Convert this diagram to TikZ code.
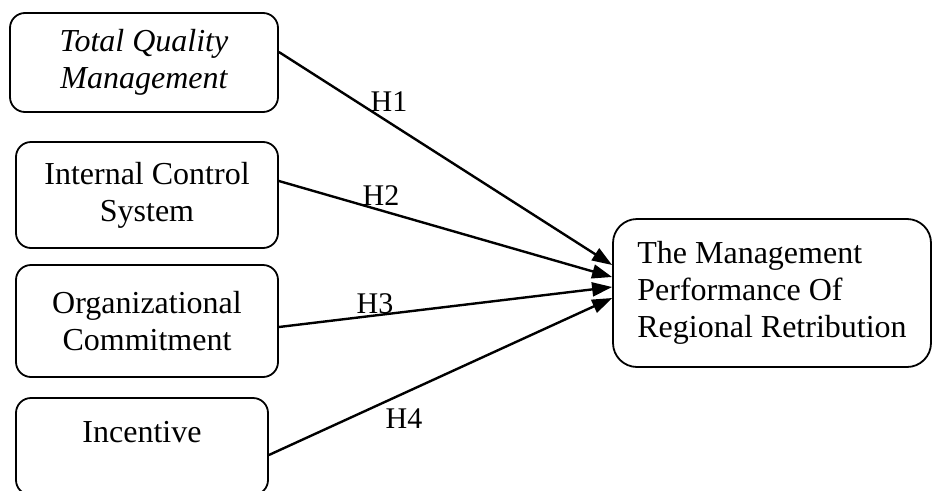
\documentclass[tikz,border=0pt]{standalone}
\usepackage{fontspec}
\setmainfont{Liberation Serif}
\usetikzlibrary{arrows.meta}
\begin{document}
\begin{tikzpicture}[x=1pt,y=-1pt,
  box/.style={draw,line width=1.8pt,rounded corners=15pt,inner sep=0pt,align=center,
    font=\fontsize{32}{37}\selectfont},
  bigbox/.style={box,rounded corners=24pt,align=left},
  conn/.style={line width=2.4pt,-{Triangle[length=20pt,width=14pt]}},
  hyp/.style={inner sep=0pt,font=\fontsize{30}{34}\selectfont}]
\useasboundingbox (0,0) rectangle (933,490);
\clip (0,0) rectangle (933,490);
\node[box,minimum width=268pt,minimum height=99pt] (tqm) at (144,62.5) {\itshape Total Quality\\\itshape Management};
\node[box,minimum width=262pt,minimum height=106pt] (ics) at (147,195) {Internal Control\\System};
\node[box,minimum width=262pt,minimum height=112pt] (oc) at (147,321) {Organizational\\Commitment};
\node[box,minimum width=252pt,minimum height=97pt,text height=22pt,text depth=31pt] (inc) at (142,446.5) {Incentive};
\node[bigbox,minimum width=318pt,minimum height=148pt] (dv) at (772,293) {The Management\\Performance Of\\Regional Retribution};
\draw[conn] ([yshift=10.5pt]tqm.east) -- ([yshift=28pt]dv.west);
\draw[conn] ([yshift=14pt]ics.east) -- ([yshift=16pt]dv.west);
\draw[conn] ([yshift=-6pt]oc.east) -- ([yshift=6pt]dv.west);
\draw[conn] ([yshift=-8.5pt]inc.east) -- ([yshift=-5pt]dv.west);
\node[hyp] (h1) at (389,102) {H1};
\node[hyp] (h2) at (381,196) {H2};
\node[hyp] (h3) at (375,304) {H3};
\node[hyp] (h4) at (404,419) {H4};
\end{tikzpicture}
\end{document}
